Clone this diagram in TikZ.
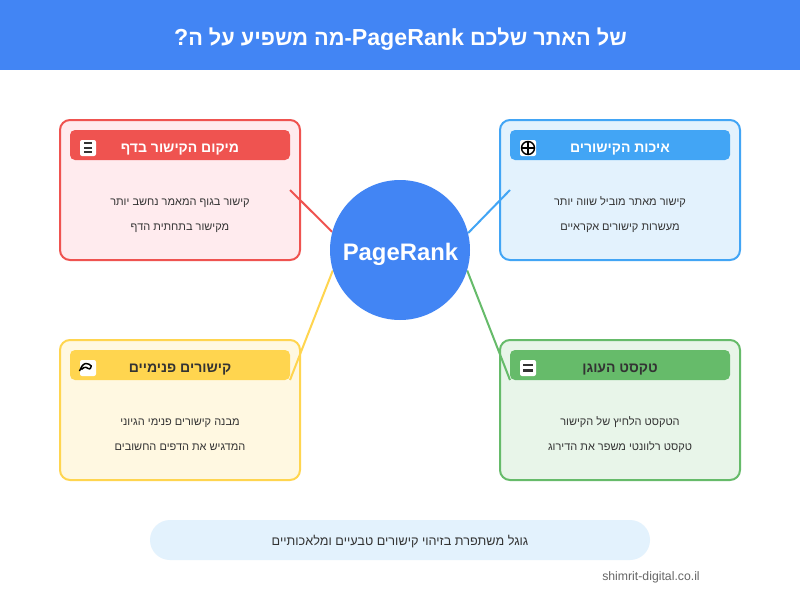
\documentclass[tikz,border=0pt]{standalone}
\usepackage{fontspec}
\setmainfont{Liberation Sans}
\newfontfamily\hebfont[Script=Hebrew]{Liberation Sans}
\TeXXeTstate=1
\pgfdeclarelayer{cards}
\pgfdeclarelayer{top}
\pgfsetlayers{cards,main,top}
\definecolor{bluetop}{HTML}{4285F4}
\definecolor{redm}{HTML}{EF5350}\definecolor{redl}{HTML}{FFEBEE}
\definecolor{bluem}{HTML}{42A5F5}\definecolor{bluel}{HTML}{E3F2FD}
\definecolor{yelm}{HTML}{FFD54F}\definecolor{yell}{HTML}{FFF8E1}
\definecolor{grnm}{HTML}{66BB6A}\definecolor{grnl}{HTML}{E8F5E9}
\definecolor{ink}{HTML}{333333}
\definecolor{wm}{HTML}{666666}
\tikzset{
  cardbox/.style={draw=#1,line width=1.5pt,rounded corners=7.5pt,minimum width=180pt,minimum height=105pt,inner sep=0pt},
  headbar/.style={fill=#1,rounded corners=3.75pt,minimum width=165pt,minimum height=22.5pt,inner sep=0pt},
  iconbox/.style={fill=white,rounded corners=1.5pt,minimum width=12pt,minimum height=12pt,inner sep=0pt},
  headtext/.style={anchor=base,inner sep=0pt,font=\hebfont\bfseries\fontsize{10.5pt}{12pt}\selectfont,text=#1},
  bodytext/.style={anchor=base,inner sep=0pt,font=\hebfont\fontsize{8.25pt}{10pt}\selectfont,text=ink},
  link/.style={draw=#1,line width=1.5pt},
  glyphbar/.style={draw=ink,line width=#1},
  glyphline/.style={draw=black,line width=1.1pt}
}
\begin{document}
\begin{tikzpicture}[x=0.75pt,y=-0.75pt]
\useasboundingbox (0,0) rectangle (800,600);
\begin{pgfonlayer}{cards}
\fill[white] (0,0) rectangle (800,600);
\node[fill=bluetop,minimum width=600pt,minimum height=52.5pt,inner sep=0pt] (banner) at (400,35) {};
\node[cardbox=redm,fill=redl] (cardR) at (180,190) {};
\node[cardbox=bluem,fill=bluel] (cardB) at (620,190) {};
\node[cardbox=yelm,fill=yell] (cardY) at (180,410) {};
\node[cardbox=grnm,fill=grnl] (cardG) at (620,410) {};
\node[headbar=redm] (headR) at (180,145) {};
\node[headbar=bluem] (headB) at (620,145) {};
\node[headbar=yelm] (headY) at (180,365) {};
\node[headbar=grnm] (headG) at (620,365) {};
\node[fill=bluel,rounded corners=15pt,minimum width=375pt,minimum height=30pt,inner sep=0pt] (pill) at (400,540) {};
\end{pgfonlayer}
\begin{pgfonlayer}{top}
\node[circle,fill=bluetop,minimum size=105pt,inner sep=0pt] (hub) at (400,250) {};
\node[anchor=base,inner sep=0pt,text=white,font=\bfseries\fontsize{17.9pt}{20pt}\selectfont] (hubtext) at (400.5,260) {PageRank};
\end{pgfonlayer}
% connectors
\coordinate (endR) at (290,190);
\coordinate (endB) at (510,190);
\coordinate (endY) at (290,380);
\coordinate (endG) at (510,380);
\draw[link=redm] (endR) -- (hub.165.35);
\draw[link=bluem] (endB) -- (hub.14.65);
\draw[link=yelm] (endY) -- (hub.197.9);
\draw[link=grnm] (endG) -- (hub.-17.9);
% title
\node[anchor=base,inner sep=0pt,text=white,font=\hebfont\bfseries\fontsize{16.3pt}{20pt}\selectfont] (title) at (400.5,45) {\beginR של האתר שלכם \beginL{\fontsize{17.4pt}{20pt}\selectfont PageRank}\endL-מה משפיע על ה{\fontsize{17.4pt}{20pt}\selectfont ?}\endR};
% headers
\node[headtext=white] (tR) at (180,152) {\beginR מיקום הקישור בדף\endR};
\node[headtext=white] (tB) at (620,152) {\beginR איכות הקישורים\endR};
\node[headtext=ink] (tY) at (180,372) {\beginR קישורים פנימיים\endR};
\node[headtext=ink] (tG) at (620,372) {\beginR טקסט העוגן\endR};
% body
\node[bodytext] (r1) at (180,205) {\beginR קישור בגוף המאמר נחשב יותר\endR};
\node[bodytext] (r2) at (180,230) {\beginR מקישור בתחתית הדף\endR};
\node[bodytext] (b1) at (620,205) {\beginR קישור מאתר מוביל שווה יותר\endR};
\node[bodytext] (b2) at (620,230) {\beginR מעשרות קישורים אקראיים\endR};
\node[bodytext] (y1) at (180,425) {\beginR מבנה קישורים פנימי הגיוני\endR};
\node[bodytext] (y2) at (180,450) {\beginR המדגיש את הדפים החשובים\endR};
\node[bodytext] (g1) at (620,425) {\beginR הטקסט הלחיץ של הקישור\endR};
\node[bodytext] (g2) at (620,450) {\beginR טקסט רלוונטי משפר את הדירוג\endR};
% icons
\node[iconbox] (iconR) at (88,148) {};
\node[iconbox] (iconB) at (528,148) {};
\node[iconbox] (iconY) at (88,368) {};
\node[iconbox] (iconG) at (528,368) {};
\draw[glyphbar=1.6pt] (84,143.4) -- (92.4,143.4) (84,147.9) -- (92.4,147.9) (84,152.4) -- (92.4,152.4);
\draw[glyphline] (528,148) circle[radius=6.5];
\draw[glyphline] (521.5,148) -- (534.5,148) (528,141.5) -- (528,154.5);
\draw[glyphbar=2pt] (523.2,365) -- (533.2,365) (523.2,370.5) -- (533.2,370.5);
\draw[draw=black,line width=1.1pt,line join=round] (79.5,371) .. controls (81,368) and (82,364.5) .. (85.5,363.5) .. controls (88,363.3) and (90,364.5) .. (91.3,366) .. controls (91,367.5) and (90.5,368.5) .. (89.5,369) .. controls (87,368) and (85,365.5) .. (81.5,369.5);
% footer
\node[anchor=base,inner sep=0pt,text=ink,font=\hebfont\fontsize{9.5pt}{12pt}\selectfont] (foot) at (400,545) {\beginR גוגל משתפרת בזיהוי קישורים טבעיים ומלאכותיים\endR};
\node[anchor=base east,inner sep=0pt,text=wm,font=\fontsize{9.2pt}{10pt}\selectfont] (mark) at (700,580) {shimrit-digital.co.il};
\end{tikzpicture}
\end{document}
